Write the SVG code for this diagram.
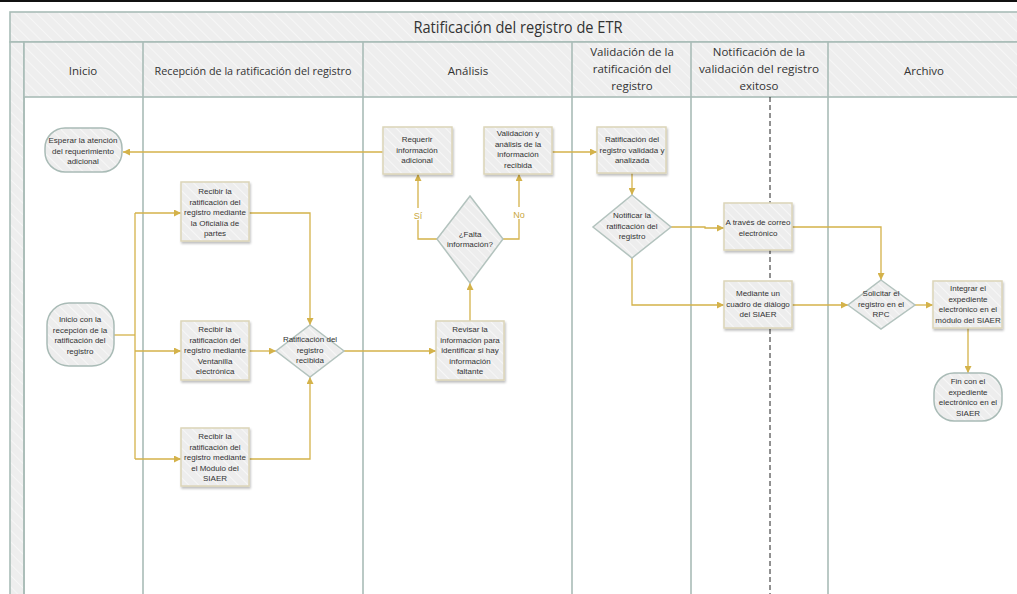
<svg xmlns="http://www.w3.org/2000/svg" width="1017" height="594" viewBox="0 0 1017 594">
<defs>
<pattern id="hatch" width="7" height="7" patternUnits="userSpaceOnUse" patternTransform="rotate(-45)">
<rect width="7" height="7" fill="#EDEDED"/>
<line x1="0" y1="0" x2="0" y2="7" stroke="#F7F7F7" stroke-width="2"/>
</pattern>
<pattern id="hatchH" width="8" height="8" patternUnits="userSpaceOnUse" patternTransform="rotate(-45)">
<rect width="8" height="8" fill="#EEEEEE"/>
<line x1="0" y1="0" x2="0" y2="8" stroke="#F6F6F6" stroke-width="2"/>
</pattern>
<marker id="arr" viewBox="0 0 10 10" refX="10" refY="5" markerWidth="7" markerHeight="7" orient="auto" markerUnits="userSpaceOnUse">
<path d="M0,0 L10,5 L0,10 z" fill="#D4B24A"/>
</marker>
<filter id="sh" x="-10%" y="-10%" width="130%" height="130%">
<feDropShadow dx="1" dy="2" stdDeviation="1" flood-color="#000" flood-opacity="0.25"/>
</filter>
</defs>
<style>
.lane{fill:none;stroke:#A9BCB7;stroke-width:1.6}
.box{fill:url(#hatch);stroke:#DCD5B8;stroke-width:1.5;filter:url(#sh)}
.dia{fill:url(#hatch);stroke:#B3C3BE;stroke-width:1.5}
.term{fill:url(#hatch);stroke:#A9BBB6;stroke-width:1.5}
.t{font-family:"Liberation Sans",Arial,sans-serif;font-size:8px;fill:#333;text-anchor:middle}
.h{font-family:"Open Sans","Liberation Sans",sans-serif;font-size:11.5px;fill:#333;text-anchor:middle}
.ttl{font-family:"Open Sans","Liberation Sans",sans-serif;font-size:16px;fill:#333;text-anchor:middle}
.c{fill:none;stroke:#D4B24A;stroke-width:1.3}
.lbl{font-family:"Liberation Sans",Arial,sans-serif;font-size:9px;fill:#C9A73E;text-anchor:middle}
</style>
<rect width="1017" height="594" fill="#fff"/>
<rect x="0" y="0" width="1017" height="2" fill="#111"/>
<g id="pool">
<rect x="10" y="12" width="1020" height="30" fill="url(#hatchH)" stroke="#A9BCB7" stroke-width="1.6"/>
<text class="ttl" x="518" y="33" textLength="209" lengthAdjust="spacingAndGlyphs">Ratificación del registro de ETR</text>
<rect x="10" y="42" width="14" height="560" fill="url(#hatchH)" stroke="#A9BCB7" stroke-width="1.6"/>
<rect x="24" y="42" width="1010" height="55" fill="url(#hatchH)" stroke="#A9BCB7" stroke-width="1.6"/>
<line class="lane" x1="24" y1="97" x2="24" y2="594"/>
<line class="lane" x1="143" y1="42" x2="143" y2="594"/>
<line class="lane" x1="363" y1="42" x2="363" y2="594"/>
<line class="lane" x1="572" y1="42" x2="572" y2="594"/>
<line class="lane" x1="691" y1="42" x2="691" y2="594"/>
<line class="lane" x1="828" y1="42" x2="828" y2="594"/>
<line x1="770" y1="97" x2="770" y2="594" stroke="#222" stroke-width="1" stroke-dasharray="5,3"/>
<text class="h" x="83" y="75">Inicio</text>
<text class="h" x="253" y="75" textLength="197" lengthAdjust="spacingAndGlyphs">Recepción de la ratificación del registro</text>
<text class="h" x="468" y="75">Análisis</text>
<text class="h" x="632" y="56">Validación de la</text>
<text class="h" x="632" y="73">ratificación del</text>
<text class="h" x="632" y="90">registro</text>
<text class="h" x="759" y="56">Notificación de la</text>
<text class="h" x="759" y="73" textLength="120" lengthAdjust="spacingAndGlyphs">validación del registro</text>
<text class="h" x="759" y="90">exitoso</text>
<text class="h" x="924" y="75">Archivo</text>
</g>
<g id="connectors">
<path class="c" d="M383,152 H123" marker-end="url(#arr)"/>
<path class="c" d="M114,335 H135"/>
<path class="c" d="M135,213 V459"/>
<path class="c" d="M135,213 H181" marker-end="url(#arr)"/>
<path class="c" d="M135,351 H181" marker-end="url(#arr)"/>
<path class="c" d="M135,459 H181" marker-end="url(#arr)"/>
<path class="c" d="M249,213 H310 V325" marker-end="url(#arr)"/>
<path class="c" d="M249,351 H276" marker-end="url(#arr)"/>
<path class="c" d="M249,459 H310 V377" marker-end="url(#arr)"/>
<path class="c" d="M344,351 H436" marker-end="url(#arr)"/>
<path class="c" d="M470,321 V283" marker-end="url(#arr)"/>
<path class="c" d="M437,239 H418 V174" marker-end="url(#arr)"/>
<path class="c" d="M503,239 H519 V174" marker-end="url(#arr)"/>
<path class="c" d="M552,152 H597" marker-end="url(#arr)"/>
<path class="c" d="M632,173 V195" marker-end="url(#arr)"/>
<path class="c" d="M671,227 H705 V228 H724" marker-end="url(#arr)"/>
<path class="c" d="M632,258 V305 H724" marker-end="url(#arr)"/>
<path class="c" d="M792,227 H881 V280" marker-end="url(#arr)"/>
<path class="c" d="M792,305 H848" marker-end="url(#arr)"/>
<path class="c" d="M915,305 H933" marker-end="url(#arr)"/>
<path class="c" d="M968,328 V373" marker-end="url(#arr)"/>
<rect x="411" y="208" width="14" height="12" fill="#fff"/>
<text class="lbl" x="418" y="219">Sí</text>
<rect x="511" y="207" width="16" height="12" fill="#fff"/>
<text class="lbl" x="519" y="218">No</text>
</g>
<g id="n-esperar">
<rect class="term" x="45" y="128" width="77" height="44" rx="20"/>
<text class="t" x="83" y="143">Esperar la atención</text>
<text class="t" x="83" y="153.5">del requerimiento</text>
<text class="t" x="83" y="164">adicional</text>
</g>
<g id="n-inicio">
<rect class="term" x="47" y="303" width="67" height="63" rx="22"/>
<text class="t" x="80" y="322">Inicio con la</text>
<text class="t" x="80" y="332.5">recepción de la</text>
<text class="t" x="80" y="343">ratificación del</text>
<text class="t" x="80" y="353.5">registro</text>
</g>
<g id="n-oficialia">
<rect class="box" x="181" y="182" width="68" height="59"/>
<text class="t" x="215" y="194">Recibir la</text>
<text class="t" x="215" y="204.5">ratificación del</text>
<text class="t" x="215" y="215">registro mediante</text>
<text class="t" x="215" y="225.5">la Oficialía de</text>
<text class="t" x="215" y="236">partes</text>
</g>
<g id="n-ventanilla">
<rect class="box" x="181" y="321" width="68" height="59"/>
<text class="t" x="215" y="332">Recibir la</text>
<text class="t" x="215" y="342.5">ratificación del</text>
<text class="t" x="215" y="353">registro mediante</text>
<text class="t" x="215" y="363.5">Ventanilla</text>
<text class="t" x="215" y="374">electrónica</text>
</g>
<g id="n-modulo">
<rect class="box" x="181" y="428" width="68" height="58"/>
<text class="t" x="215" y="439">Recibir la</text>
<text class="t" x="215" y="449.5">ratificación del</text>
<text class="t" x="215" y="460">registro mediante</text>
<text class="t" x="215" y="470.5">el Módulo del</text>
<text class="t" x="215" y="481">SIAER</text>
</g>
<g id="n-recibida">
<polygon class="dia" points="310,325 344,351 310,377 276,351"/>
<text class="t" x="310" y="342">Ratificación del</text>
<text class="t" x="310" y="352.5">registro</text>
<text class="t" x="310" y="363">recibida</text>
</g>
<g id="n-revisar">
<rect class="box" x="436" y="321" width="68" height="59"/>
<text class="t" x="470" y="332">Revisar la</text>
<text class="t" x="470" y="342.5">información para</text>
<text class="t" x="470" y="353">identificar si hay</text>
<text class="t" x="470" y="363.5">información</text>
<text class="t" x="470" y="374">faltante</text>
</g>
<g id="n-falta">
<polygon class="dia" points="470,196 503,239 470,283 437,239"/>
<text class="t" x="470" y="237">¿Falta</text>
<text class="t" x="470" y="247">información?</text>
</g>
<g id="n-requerir">
<rect class="box" x="383" y="127" width="69" height="47"/>
<text class="t" x="417" y="142">Requerir</text>
<text class="t" x="417" y="152.5">información</text>
<text class="t" x="417" y="163">adicional</text>
</g>
<g id="n-validacion">
<rect class="box" x="484" y="127" width="68" height="47"/>
<text class="t" x="518" y="136">Validación y</text>
<text class="t" x="518" y="146.5">análisis de la</text>
<text class="t" x="518" y="157">información</text>
<text class="t" x="518" y="167.5">recibida</text>
</g>
<g id="n-validada">
<rect class="box" x="597" y="127" width="69" height="46"/>
<text class="t" x="632" y="142">Ratificación del</text>
<text class="t" x="632" y="152.5">registro validada y</text>
<text class="t" x="632" y="163">analizada</text>
</g>
<g id="n-notificar">
<polygon class="dia" points="632,195 671,227 632,258 593,227"/>
<text class="t" x="632" y="218">Notificar la</text>
<text class="t" x="632" y="228.5">ratificación del</text>
<text class="t" x="632" y="239">registro</text>
</g>
<g id="n-correo">
<rect class="box" x="724" y="203" width="68" height="47"/>
<text class="t" x="758" y="225">A través de correo</text>
<text class="t" x="758" y="235.5">electrónico</text>
</g>
<g id="n-dialogo">
<rect class="box" x="724" y="281" width="68" height="47"/>
<text class="t" x="758" y="296">Mediante un</text>
<text class="t" x="758" y="306.5">cuadro de diálogo</text>
<text class="t" x="758" y="317">del SIAER</text>
</g>
<g id="n-solicitar">
<polygon class="dia" points="881,280 915,305 881,329 848,305"/>
<text class="t" x="881" y="296">Solicitar el</text>
<text class="t" x="881" y="306.5">registro en el</text>
<text class="t" x="881" y="317">RPC</text>
</g>
<g id="n-integrar">
<rect class="box" x="933" y="281" width="69" height="47"/>
<text class="t" x="968" y="291">Integrar el</text>
<text class="t" x="968" y="301.5">expediente</text>
<text class="t" x="968" y="312">electrónico en el</text>
<text class="t" x="968" y="322.5">módulo del SIAER</text>
</g>
<g id="n-fin">
<rect class="term" x="934" y="373" width="68" height="48" rx="20"/>
<text class="t" x="968" y="384">Fin con el</text>
<text class="t" x="968" y="394.5">expediente</text>
<text class="t" x="968" y="405">electrónico en el</text>
<text class="t" x="968" y="415.5">SIAER</text>
</g>
</svg>
